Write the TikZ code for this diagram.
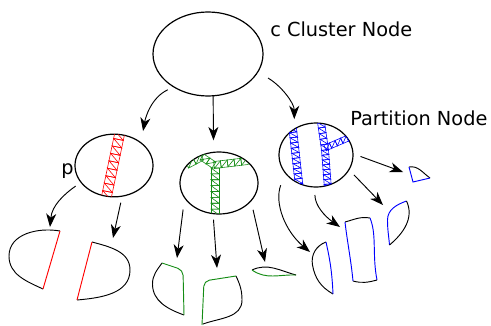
\documentclass[tikz,border=0pt]{standalone}
\usepackage{fontspec}
\setmainfont{DejaVu Sans}
\usetikzlibrary{arrows.meta,shapes.geometric,calc}
\definecolor{meshgreen}{RGB}{20,140,20}

% truss band: colour, start, end, half width, segments
\newcommand{\meshband}[5]{%
  \coordinate (mA) at ($(#2)!#4!90:(#3)$);
  \coordinate (mB) at ($(#2)!#4!-90:(#3)$);
  \coordinate (nA) at ($(#3)!#4!-90:(#2)$);
  \coordinate (nB) at ($(#3)!#4!90:(#2)$);
  \draw[mesh,#1] (mA) -- (nA) (mB) -- (nB);
  \foreach \k in {1,...,#5}{
    \pgfmathsetmacro\mfa{(\k-1)/#5}
    \pgfmathsetmacro\mfb{\k/#5}
    \draw[mesh,#1] ($(mA)!\mfa!(nA)$) -- ($(mB)!\mfa!(nB)$) -- ($(mA)!\mfb!(nA)$) -- ($(mB)!\mfb!(nB)$);
  }
}

\begin{document}
\begin{tikzpicture}[x=0.75pt,y=0.75pt,
    arr/.style={-{Stealth[length=10pt,width=7.5pt,inset=3pt]},line width=0.7pt},
    part/.style={ellipse,draw,line width=0.9pt,inner sep=0pt,outer sep=0pt},
    mesh/.style={line width=0.45pt},
    piece/.style={line width=0.7pt},
    lbl/.style={anchor=base west,inner sep=0pt,font=\fontsize{14.5}{17}\selectfont}]
	\useasboundingbox (0,0) rectangle (491,-325);

	% cluster and partitions
	\node[part,minimum width=82.5pt,minimum height=63pt] (cluster) at (208,-54) {};
	\node[part,minimum width=58.5pt,minimum height=47pt] (pr) at (114,-165.5) {};
	\node[part,minimum width=58.5pt,minimum height=46.5pt] (pg) at (219,-183) {};
	\node[part,minimum width=55.5pt,minimum height=48pt] (pb) at (316,-155) {};

	\node[lbl] (lcluster) at (270,-36) {c Cluster Node};
	\node[lbl] (lpart) at (350,-125.5) {Partition Node};
	\node[lbl] (lp) at (61,-174) {p};

	% meshes
	\begin{scope}
		\clip (pr.center) ellipse [x radius=29.25pt,y radius=23.5pt];
		\meshband{red}{120,-132}{106,-199}{3.7pt}{9}
	\end{scope}
	\begin{scope}
		\clip (pg.center) ellipse [x radius=29.25pt,y radius=23.25pt];
		\meshband{meshgreen}{187,-165}{202,-157}{2.6pt}{2}
		\meshband{meshgreen}{202,-157}{214,-165}{2.6pt}{2}
		\meshband{meshgreen}{214,-165}{248,-161}{2.6pt}{5}
		\meshband{meshgreen}{215,-168}{215,-215}{3pt}{8}
	\end{scope}
	\begin{scope}
		\clip (pb.center) ellipse [x radius=27.75pt,y radius=24pt];
		\meshband{blue}{292,-122}{299.5,-189}{2.8pt}{13}
		\meshband{blue}{321,-122}{325,-150}{2.6pt}{5}
		\meshband{blue}{325,-150}{328,-189}{2.6pt}{8}
		\meshband{blue}{325,-148}{353,-136}{2.2pt}{5}
	\end{scope}

	% pieces
	\draw[piece] (60,-231) to[out=170,in=90] (9,-256) to[out=270,in=155] (43,-289);
	\draw[piece,red] (43,-289) -- (60,-231);
	\draw[piece] (92,-242) to[out=-15,in=90] (130,-270) to[out=270,in=5] (77,-300);
	\draw[piece,red] (77,-300) -- (92,-242);

	\draw[piece] (162,-263) to[out=235,in=90] (152.5,-284) to[out=270,in=160] (184,-315);
	\draw[piece,meshgreen,rounded corners=4pt] (162,-263) -- (183,-270) -- (184,-315);
	\draw[piece] (236,-276) to[out=-65,in=90] (242,-300) to[out=270,in=20] (203,-324);
	\draw[piece,meshgreen,rounded corners=4pt] (236,-276) -- (204,-281) -- (202,-325);
	\draw[piece] (252,-270) to[out=25,in=165] (296,-275);
	\draw[piece,meshgreen] (252,-270) to[out=-35,in=178] (296,-275);

	\draw[piece] (409,-167) to[out=10,in=145] (430,-178);
	\draw[piece,blue] (409,-167) -- (413,-182) -- (430,-178);
	\draw[piece,blue] (406.5,-201) to[out=200,in=90] (387.5,-220) to[out=270,in=95] (389.5,-245);
	\draw[piece] (406.5,-201) to[out=-65,in=40] (389.5,-245);
	\draw[piece] (345,-222) to[out=15,in=170] (370,-218);
	\draw[piece,blue] (370,-218) .. controls (377,-235) and (372,-255) .. (377,-280);
	\draw[piece] (377,-280) to[out=-165,in=-15] (353,-281);
	\draw[piece,blue] (353,-281) .. controls (351,-260) and (347,-240) .. (345,-222);
	\draw[piece] (326,-242) to[out=200,in=100] (312.5,-265) to[out=280,in=150] (333,-294);
	\draw[piece,blue] (326,-242) to[bend left=5] (333,-294);

	% arrow ends at pieces
	\coordinate (r1) at (50,-227);
	\coordinate (r2) at (113,-238);
	\coordinate (g1) at (177,-258);
	\coordinate (g2) at (217,-268);
	\coordinate (g3) at (265,-262);
	\coordinate (b1) at (403,-172);
	\coordinate (b2) at (383,-205);
	\coordinate (b3) at (340,-227);
	\coordinate (b4) at (310,-252);

	% arrows
	\draw[arr,shorten <=5pt,shorten >=9pt] (cluster.224) to[out=205,in=80] (pr.40);
	\draw[arr,shorten >=9pt] (cluster.277) -- (pg.100);
	\draw[arr,shorten <=9pt,shorten >=7.5pt] (cluster.340) to[out=330,in=90] (pb.130);

	\draw[arr,shorten <=5pt] (pr.207) to[out=215,in=85] (r1);
	\draw[arr,shorten <=5pt] (pr.285) -- (r2);

	\draw[arr,shorten <=9pt] (pg.203) -- (g1);
	\draw[arr,shorten <=4.5pt] (pg.259) -- (g2);
	\draw[arr,shorten <=7pt] (pg.331) -- (g3);

	\draw[arr,shorten <=6pt] (pb.2) -- (b1);
	\draw[arr,shorten <=5.5pt] (pb.336) -- (b2);
	\draw[arr,shorten <=6pt] (pb.268) to[out=270,in=145] (b3);
	\draw[arr,shorten <=10pt] (pb.210) to[out=250,in=140] (b4);
\end{tikzpicture}
\end{document}
